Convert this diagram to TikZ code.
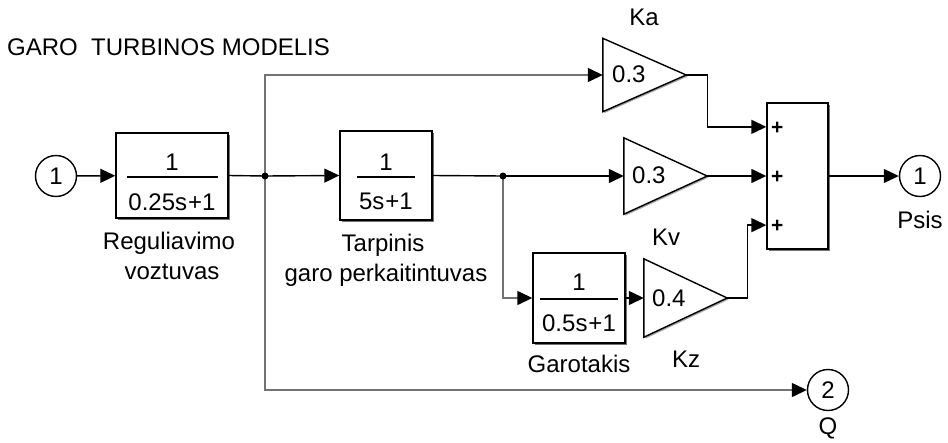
\documentclass[tikz,border=0pt]{standalone}
\usepackage{fontspec}
\setmainfont{Liberation Sans}
\usetikzlibrary{arrows.meta,shadows,calc}
\begin{document}
\begin{tikzpicture}[x=1pt,y=-1pt,
  font=\fontsize{24}{29}\selectfont,
  tip/.style={-{Triangle[length=15pt,width=14pt,color=black]}},
  wire/.style={line width=1.4pt,draw=black},
  br/.style={line width=1.4pt,draw=black!55},
  tf/.style={draw,line width=1.4pt,fill=white,inner sep=0pt,
    drop shadow={shadow xshift=2pt,shadow yshift=-2pt,fill=black!55,opacity=1}},
  port/.style={circle,draw,line width=1.4pt,minimum size=41pt,inner sep=0pt,fill=white},
  gainbox/.style={minimum width=83pt,minimum height=73pt,inner sep=0pt},
  tri/.style={draw,line width=1.4pt,line join=miter,fill=white},
  trishadow/.style={fill=black!35,draw=none},
  txt/.style={inner sep=0pt,anchor=base},
  dot/.style={circle,fill,minimum size=7pt,inner sep=0pt},
  pl/.style={inner sep=0pt,font=\fontsize{21}{23}\selectfont\bfseries}]
\useasboundingbox (0,0) rectangle (948,442);

% title
\node[inner sep=0pt,anchor=base west] (title) at (7,55) {GARO\ \ TURBINOS MODELIS};

% ports
\node[port] (in1) at (56,176) {1};
\node[port] (out1) at (920,176) {1};
\node[port] (out2) at (828,390) {2};
\node[txt] (psis) at (920,228) {Psis};
\node[txt] (q) at (828,434) {Q};

% transfer function blocks
\node[tf,minimum width=112pt,minimum height=85pt] (b1) at (172,175.5) {};
\draw[wire] (127,177) -- (218,177);
\node[txt] (b1n) at (172,170) {1};
\node[txt] (b1d) at (172,210) {0.25s\kern1pt+1};
\node[txt] (l1a) at (169,249) {Reguliavimo};
\node[txt] (l1b) at (172,279) {voztuvas};

\node[tf,minimum width=92pt,minimum height=89pt] (b2) at (386,175.5) {};
\draw[wire] (357,177) -- (415,177);
\node[txt] (b2n) at (386,170) {1};
\node[txt] (b2d) at (386,209) {5s\kern1pt+1};
\node[txt] (l2a) at (383,251) {Tarpinis};
\node[txt] (l2b) at (386,281) {garo perkaitintuvas};

\node[tf,minimum width=92pt,minimum height=90pt] (b3) at (579,298) {};
\draw[wire] (540,299) -- (618,299);
\node[txt] (b3n) at (579,290) {1};
\node[txt] (b3d) at (579,331) {0.5s\kern1pt+1};
\node[txt] (l3) at (579,372) {Garotakis};

% gains
\node[gainbox] (ka) at (644.5,75) {};
\fill[trishadow] ($(ka.north west)+(1.5,1.5)$) -- ($(ka.east)+(1.5,1.5)$) -- ($(ka.south west)+(1.5,1.5)$) -- cycle;
\draw[tri] (ka.north west) -- (ka.east) -- (ka.south west) -- cycle;
\node[txt,anchor=base west] (kav) at (612,82) {0.3};
\node[txt] (kal) at (644,25) {Ka};

\node[gainbox,minimum height=76pt] (kv) at (665.5,176) {};
\fill[trishadow] ($(kv.north west)+(1.5,1.5)$) -- ($(kv.east)+(1.5,1.5)$) -- ($(kv.south west)+(1.5,1.5)$) -- cycle;
\draw[tri] (kv.north west) -- (kv.east) -- (kv.south west) -- cycle;
\node[txt,anchor=base west] (kvv) at (632,183) {0.3};
\node[txt] (kvl) at (666,245) {Kv};

\node[gainbox,minimum height=78pt] (kz) at (685.5,298) {};
\fill[trishadow] ($(kz.north west)+(1.5,1.5)$) -- ($(kz.east)+(1.5,1.5)$) -- ($(kz.south west)+(1.5,1.5)$) -- cycle;
\draw[tri] (kz.north west) -- (kz.east) -- (kz.south west) -- cycle;
\node[txt,anchor=base west] (kzv) at (652,306) {0.4};
\node[txt] (kzl) at (686,367) {Kz};

% sum
\node[tf,minimum width=61pt,minimum height=146pt] (sum) at (797.5,176) {};
\coordinate (s1) at ($(sum.north west)!1/6!(sum.south west)$);
\coordinate (s2) at (sum.west);
\coordinate (s3) at ($(sum.north west)!5/6!(sum.south west)$);
\node[pl] (p1) at ($(s1)+(11,1)$) {+};
\node[pl] (p2) at ($(s2)+(11,1)$) {+};
\node[pl] (p3) at ($(s3)+(11,1)$) {+};

% junctions
\coordinate (j1) at (265,176);
\coordinate (j2) at (503,176);

% connectors
\draw[wire,tip] (in1) -- (b1);
\draw[wire] (b1.east) -- (j1);
\draw[wire,tip] (j1) -- (b2.west);
\draw[br,tip] (j1) |- (ka.west);
\draw[br,tip] (j1) |- (out2.west);
\draw[wire] (b2.east) -- (j2);
\draw[wire,tip] (j2) -- (kv.west);
\draw[br,tip] (j2) |- (b3.west);
\draw[wire,tip] (b3.east) -- (kz.west);
\draw[wire,tip] (ka.east) -- ++(21,0) |- (s1);
\draw[wire,tip] (kv.east) -- (s2);
\draw[wire,tip] (kz.east) -- ++(20,0) |- (s3);
\draw[wire,tip] (sum.east) -- (out1.west);
\node[dot] (d1) at (j1) {};
\node[dot] (d2) at (j2) {};
\end{tikzpicture}
\end{document}
